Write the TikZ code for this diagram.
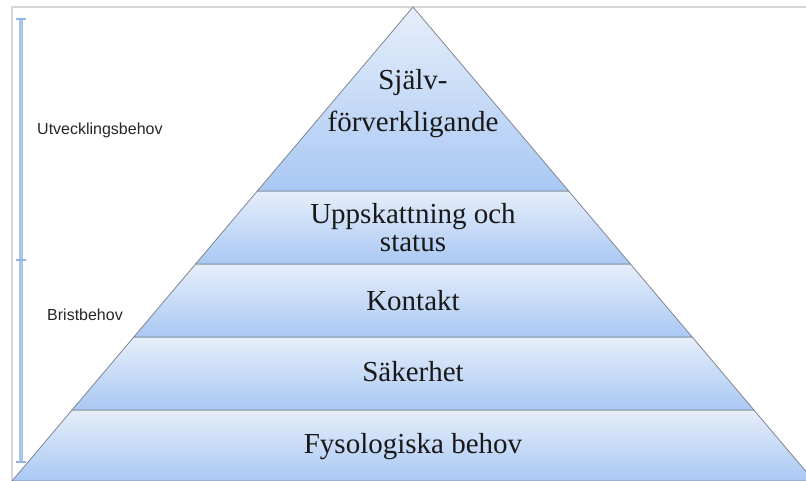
\documentclass[tikz,border=0pt]{standalone}
\usepackage{fontspec}
\setmainfont{Liberation Serif}
\setsansfont{Liberation Sans}
\usetikzlibrary{calc}
\definecolor{layertop}{HTML}{E6EEFA}
\definecolor{layerbot}{HTML}{A9C8F4}
\definecolor{edgegray}{HTML}{7E8690}
\definecolor{framegray}{HTML}{D6D6D6}
\definecolor{barblue}{HTML}{A8C3EE}
\definecolor{tickblue}{HTML}{93B2E2}
\tikzset{
  layer/.style={top color=layertop, bottom color=layerbot, draw=edgegray, line width=0.8pt, line join=round},
  pylabel/.style={anchor=base, inner sep=0pt, font=\fontsize{29}{32}\selectfont, text=black!90},
  sidelabel/.style={anchor=west, inner sep=0pt, font=\sffamily\fontsize{16}{18}\selectfont, text=black!85},
  bar/.style={draw=barblue, line width=3.5pt},
  tick/.style={draw=tickblue, line width=2.5pt}
}
\begin{document}
\begin{tikzpicture}[x=1pt,y=1pt]
\useasboundingbox (0,0) rectangle (806,481);
\begin{scope}
\clip (0,0) rectangle (806,481);
% frame
\draw[framegray, line width=1.3pt] (12,0) -- (12,474) -- (806,474);
% pyramid corner points
\coordinate (A) at (413,474);
\coordinate (BL) at (12,0);
\coordinate (BR) at (814,0);
\foreach \n/\h in {1/71,2/144,3/217,4/290}{
  \coordinate (L\n) at ($(BL)!\h/474!(A)$);
  \coordinate (R\n) at ($(BR)!\h/474!(A)$);
}
% layers
\path[layer] (BL) -- (BR) -- (R1) -- (L1) -- cycle;
\path[layer] (L1) -- (R1) -- (R2) -- (L2) -- cycle;
\path[layer] (L2) -- (R2) -- (R3) -- (L3) -- cycle;
\path[layer] (L3) -- (R3) -- (R4) -- (L4) -- cycle;
\path[layer] (L4) -- (R4) -- (A) -- cycle;
\end{scope}
% labels in pyramid
\node[pylabel] (s1) at (413,391) {Själv-};
\node[pylabel] (s2) at (413,349) {förverkligande};
\node[pylabel] (u1) at (413,257) {Uppskattning och};
\node[pylabel] (u2) at (413,229) {status};
\node[pylabel] (k) at (413,170) {Kontakt};
\node[pylabel] (sa) at (413,99) {Säkerhet};
\node[pylabel] (f) at (413,27) {Fysologiska behov};
% left scale bar
\coordinate (b0) at (21,462);
\coordinate (b1) at (21,221);
\coordinate (b2) at (21,19);
\draw[bar] (b0) -- (b2);
\foreach \p in {b0,b1,b2}{
  \draw[tick] ($(\p)+(-5,0)$) -- ($(\p)+(5,0)$);
}
\node[sidelabel] (ut) at (37,351) {Utvecklingsbehov};
\node[sidelabel] (br) at (47,166) {Bristbehov};
\end{tikzpicture}
\end{document}
